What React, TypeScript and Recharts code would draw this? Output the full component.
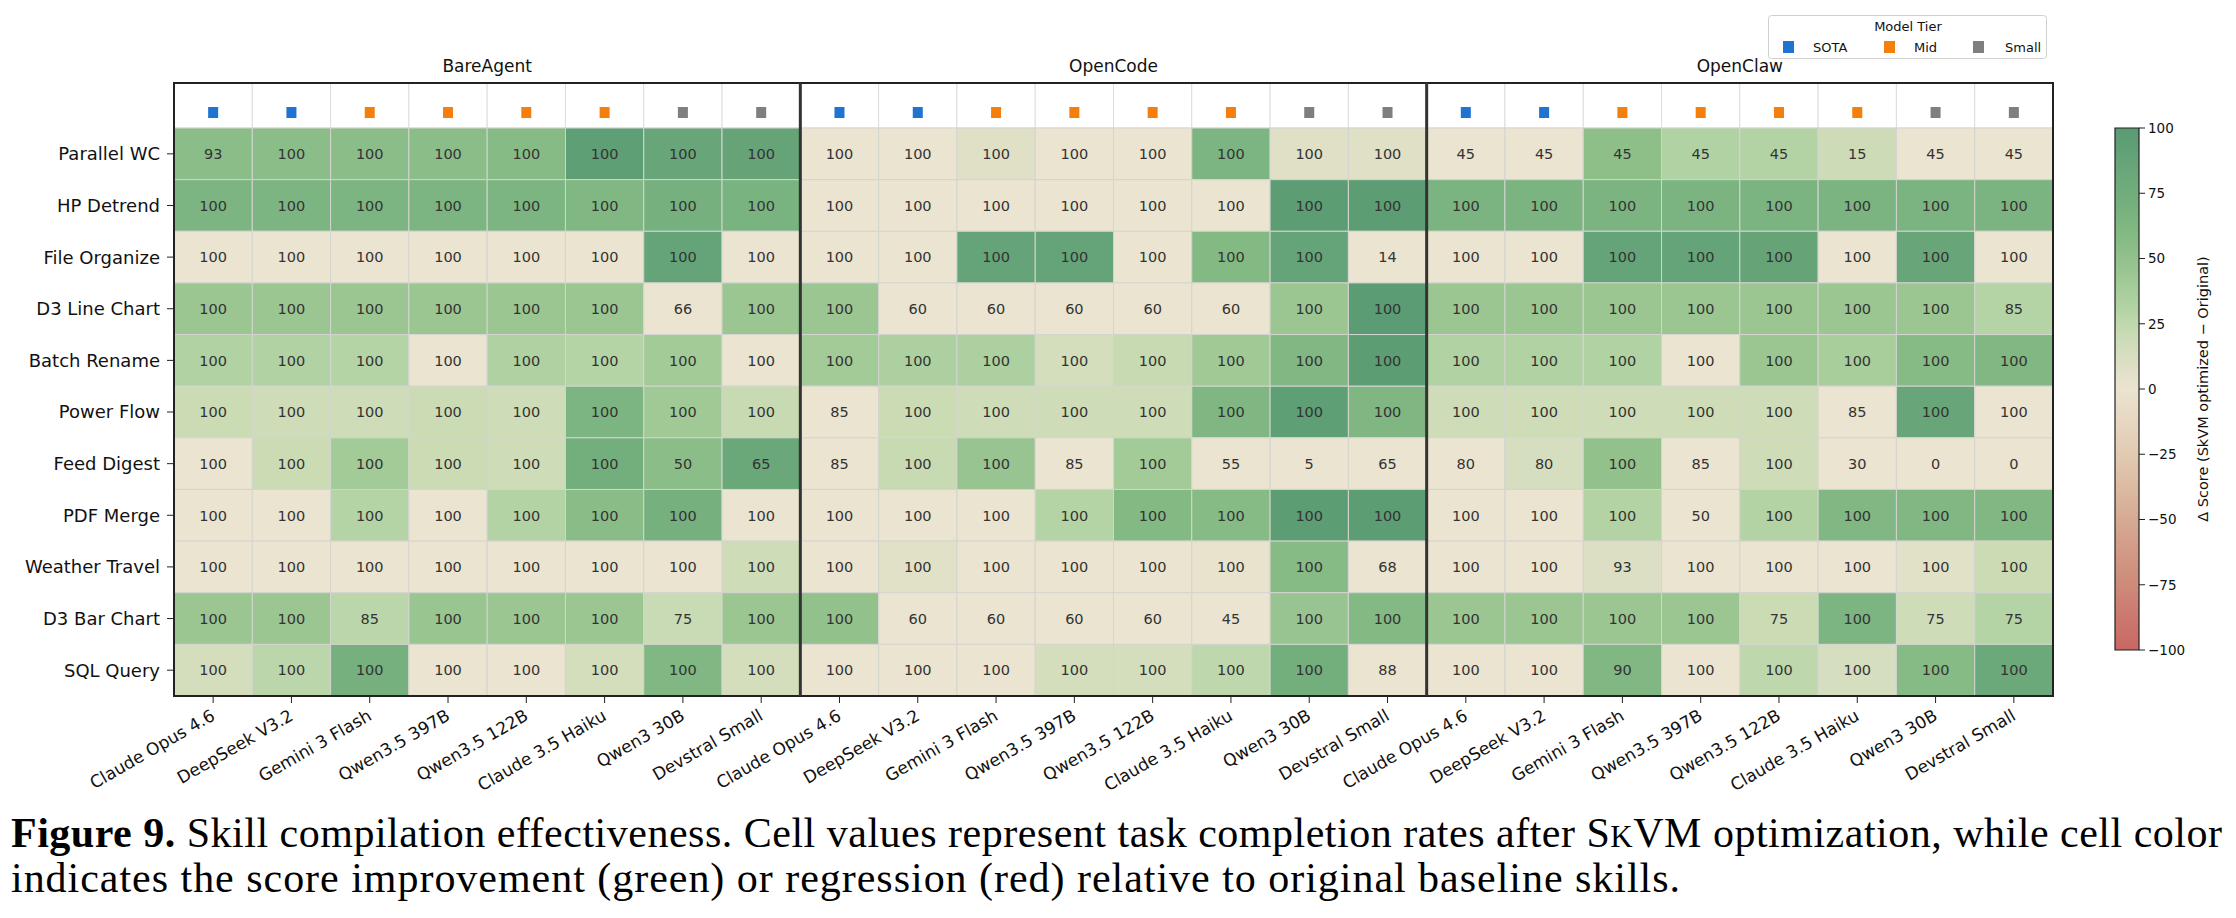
import React from 'react';
import { ComposedChart, XAxis, YAxis, Scatter, ReferenceArea, ReferenceLine } from 'recharts';

const agents = ['BareAgent', 'OpenCode', 'OpenClaw'];
const models = ['Claude Opus 4.6', 'DeepSeek V3.2', 'Gemini 3 Flash', 'Qwen3.5 397B', 'Qwen3.5 122B', 'Claude 3.5 Haiku', 'Qwen3 30B', 'Devstral Small'];
const modelTiers = ['SOTA', 'SOTA', 'Mid', 'Mid', 'Mid', 'Mid', 'Small', 'Small'];
const tierNames = ['SOTA', 'Mid', 'Small'];
const tasks = ['Parallel WC', 'HP Detrend', 'File Organize', 'D3 Line Chart', 'Batch Rename', 'Power Flow', 'Feed Digest', 'PDF Merge', 'Weather Travel', 'D3 Bar Chart', 'SQL Query'];
const colorbarTicks = [-100, -75, -50, -25, 0, 25, 50, 75, 100];

const bareAgentValues = [
  [93, 100, 100, 100, 100, 100, 100, 100],
  [100, 100, 100, 100, 100, 100, 100, 100],
  [100, 100, 100, 100, 100, 100, 100, 100],
  [100, 100, 100, 100, 100, 100, 66, 100],
  [100, 100, 100, 100, 100, 100, 100, 100],
  [100, 100, 100, 100, 100, 100, 100, 100],
  [100, 100, 100, 100, 100, 100, 50, 65],
  [100, 100, 100, 100, 100, 100, 100, 100],
  [100, 100, 100, 100, 100, 100, 100, 100],
  [100, 100, 85, 100, 100, 100, 75, 100],
  [100, 100, 100, 100, 100, 100, 100, 100],
];
const bareAgentDeltas = [
  [55, 55, 55, 55, 58, 95, 85, 87],
  [65, 65, 65, 65, 65, 62, 70, 67],
  [0, 0, 0, 0, 0, 0, 88, 0],
  [45, 45, 45, 45, 45, 45, 0, 45],
  [32, 32, 30, 0, 33, 30, 40, 0],
  [20, 18, 18, 20, 18, 65, 42, 22],
  [0, 20, 40, 20, 18, 72, 55, 83],
  [0, 0, 30, 0, 31, 56, 70, 0],
  [0, 0, 0, 0, 0, 0, 0, 18],
  [45, 45, 27, 46, 45, 45, 21, 45],
  [15, 27, 70, 0, 0, 15, 62, 15],
];

const openCodeValues = [
  [100, 100, 100, 100, 100, 100, 100, 100],
  [100, 100, 100, 100, 100, 100, 100, 100],
  [100, 100, 100, 100, 100, 100, 100, 14],
  [100, 60, 60, 60, 60, 60, 100, 100],
  [100, 100, 100, 100, 100, 100, 100, 100],
  [85, 100, 100, 100, 100, 100, 100, 100],
  [85, 100, 100, 85, 100, 55, 5, 65],
  [100, 100, 100, 100, 100, 100, 100, 100],
  [100, 100, 100, 100, 100, 100, 100, 68],
  [100, 60, 60, 60, 60, 45, 100, 100],
  [100, 100, 100, 100, 100, 100, 100, 88],
];
const openCodeDeltas = [
  [0, 0, 8, 0, 0, 65, 8, 8],
  [0, 0, 0, 0, 0, 0, 97, 97],
  [0, 0, 88, 88, 0, 60, 88, 0],
  [45, 0, 0, 0, 0, 0, 45, 98],
  [40, 35, 35, 15, 22, 42, 62, 97],
  [0, 20, 18, 18, 18, 63, 95, 63],
  [0, 22, 47, 0, 40, 0, 0, 0],
  [0, 0, 0, 30, 60, 58, 97, 97],
  [0, 7, 0, 0, 0, 3, 58, 0],
  [50, 0, 0, 0, 0, 0, 47, 60],
  [0, 0, 0, 15, 15, 26, 72, 0],
];

const openClawValues = [
  [45, 45, 45, 45, 45, 15, 45, 45],
  [100, 100, 100, 100, 100, 100, 100, 100],
  [100, 100, 100, 100, 100, 100, 100, 100],
  [100, 100, 100, 100, 100, 100, 100, 85],
  [100, 100, 100, 100, 100, 100, 100, 100],
  [100, 100, 100, 100, 100, 85, 100, 100],
  [80, 80, 100, 85, 100, 30, 0, 0],
  [100, 100, 100, 50, 100, 100, 100, 100],
  [100, 100, 93, 100, 100, 100, 100, 100],
  [100, 100, 100, 100, 75, 100, 75, 75],
  [100, 100, 90, 100, 100, 100, 100, 100],
];
const openClawDeltas = [
  [0, 0, 53, 32, 31, 19, 0, 0],
  [66, 66, 66, 66, 66, 66, 66, 66],
  [0, 0, 88, 88, 87, 0, 85, 0],
  [45, 45, 45, 45, 45, 45, 45, 30],
  [32, 32, 32, 0, 45, 37, 58, 62],
  [18, 18, 18, 18, 18, 0, 85, 0],
  [0, 14, 50, 0, 18, 0, 0, 0],
  [0, 0, 31, 0, 31, 62, 62, 62],
  [0, 0, 10, 0, 0, 0, 7, 20],
  [45, 45, 45, 45, 20, 65, 18, 30],
  [0, 0, 62, 0, 26, 14, 58, 82],
];

const groupValues = [bareAgentValues, openCodeValues, openClawValues];
const groupDeltas = [bareAgentDeltas, openCodeDeltas, openClawDeltas];

// colormap (style): delta -> rgb
const CMAP: [number, number, number, number][] = [
  [-100, 200, 104, 100],
  [-75, 206, 138, 122],
  [-50, 214, 170, 146],
  [-25, 226, 202, 178],
  [0, 235, 228, 208],
  [10, 220, 223, 196],
  [20, 203, 220, 181],
  [30, 181, 212, 166],
  [40, 163, 203, 152],
  [50, 146, 193, 140],
  [60, 131, 185, 131],
  [70, 117, 176, 126],
  [80, 109, 170, 123],
  [90, 99, 162, 119],
  [100, 89, 155, 115],
];
function cmap(d: number): string {
  const v = Math.max(-100, Math.min(100, d));
  for (let i = 0; i < CMAP.length - 1; i++) {
    const a = CMAP[i], b = CMAP[i + 1];
    if (v >= a[0] && v <= b[0]) {
      const t = (v - a[0]) / (b[0] - a[0]);
      const c = [1, 2, 3].map((k) => Math.round(a[k] + (b[k] - a[k]) * t));
      return `rgb(${c[0]},${c[1]},${c[2]})`;
    }
  }
  return 'rgb(235,228,208)';
}

const TIER_COLORS: Record<string, string> = { SOTA: '#1f73d1', Mid: '#f57f0c', Small: '#7f7f7f' };
const FONT = "'DejaVu Sans', sans-serif";
const HEADER = 0.872;
const NCOL = agents.length * models.length;

type Cell = { x: number; y: number; col: number; row: number; v: number; d: number };
const cells: Cell[] = [];
groupValues.forEach((gv, g) => {
  gv.forEach((rowVals, r) => {
    rowVals.forEach((v, c) => {
      const col = g * models.length + c;
      cells.push({ x: col + 0.5, y: r + 0.5, col, row: r, v, d: groupDeltas[g][r][c] });
    });
  });
});
const tierPoints = agents.flatMap((_, g) =>
  models.map((m, c) => ({ x: g * models.length + c + 0.5, y: -0.31, tier: modelTiers[c] }))
);
const colLabels = agents.flatMap(() => models);

const BottomTick = (props: any) => {
  const { x, y, payload } = props;
  const idx = Math.floor(payload.value);
  const ex = x + 3;
  const ey = y + 14;
  return (
    <text x={ex} y={ey} textAnchor="end" fontSize={17} fill="#111" fontFamily={FONT}
      transform={`rotate(-30, ${ex}, ${ey})`}>
      {colLabels[idx]}
    </text>
  );
};

const CellText = (props: any) => {
  const { cx, cy, payload } = props;
  return (
    <text x={cx} y={cy} dy="0.36em" textAnchor="middle" fontSize={14.5} fill="#333" fontFamily={FONT}>
      {payload.v}
    </text>
  );
};

const TierMark = (props: any) => {
  const { cx, cy, payload } = props;
  return <rect x={cx - 5} y={cy - 5} width={10} height={11} fill={TIER_COLORS[payload.tier]} />;
};

const fmtMinus = (v: number) => (v < 0 ? `\u2212${Math.abs(v)}` : `${v}`);

export default function App() {
  const xTicks = Array.from({ length: NCOL }, (_, i) => i + 0.5);
  const yTicks = tasks.map((_, i) => i + 0.5);
  return (
    <div style={{ position: 'absolute', left: 0, top: 0, width: 2236, height: 918, background: '#fff', fontFamily: FONT, overflow: 'hidden' }}>
      <div style={{ position: 'absolute', left: 0, top: 0 }}>
        <ComposedChart width={2070} height={800} margin={{ top: 83, left: 4, right: 17, bottom: 4 }}>
          <XAxis dataKey="x" type="number" domain={[0, NCOL]} ticks={xTicks} allowDataOverflow
            interval={0} tick={<BottomTick />} tickSize={7} tickLine={{ stroke: '#222' }} axisLine={false} height={100} />
          <YAxis dataKey="y" type="number" domain={[-HEADER, tasks.length]} reversed allowDataOverflow ticks={yTicks}
            interval={0} tickFormatter={(v: number) => tasks[Math.floor(v)]} width={170} tickSize={7} tickMargin={7}
            tick={{ fontSize: 18, fill: '#111', fontFamily: FONT }} tickLine={{ stroke: '#222' }} axisLine={false} />
          {xTicks.map((x, i) => (
            <ReferenceArea key={`h${i}`} x1={i} x2={i + 1} y1={-HEADER} y2={0} fill="#ffffff" fillOpacity={1}
              stroke="#dddddd" strokeWidth={1} ifOverflow="visible" />
          ))}
          {cells.map((c, i) => (
            <ReferenceArea key={`c${i}`} x1={c.col} x2={c.col + 1} y1={c.row} y2={c.row + 1} fill={cmap(c.d)}
              fillOpacity={1} stroke="#d4d4d0" strokeWidth={1} ifOverflow="visible" />
          ))}
          {agents.map((a, g) => (
            <ReferenceArea key={`g${g}`} x1={g * models.length} x2={(g + 1) * models.length} y1={-HEADER} y2={-HEADER}
              fill="none" fillOpacity={0} stroke="none" ifOverflow="visible"
              label={{ value: a, position: 'top', offset: 11, fontSize: 17, fill: '#111', fontFamily: FONT }} />
          ))}
          <Scatter data={cells} shape={<CellText />} isAnimationActive={false} legendType="none" />
          <Scatter data={tierPoints} shape={<TierMark />} isAnimationActive={false} legendType="none" />
          <ReferenceLine x={8} stroke="#333" strokeWidth={3} ifOverflow="visible" />
          <ReferenceLine x={16} stroke="#333" strokeWidth={3} ifOverflow="visible" />
          <ReferenceArea x1={0} x2={NCOL} y1={-HEADER} y2={tasks.length} fill="none" fillOpacity={0}
            stroke="#222" strokeWidth={2} ifOverflow="visible" />
        </ComposedChart>
      </div>

      <div style={{ position: 'absolute', left: 2080, top: 0 }}>
        <ComposedChart width={160} height={700} margin={{ top: 128, bottom: 50, left: 35, right: 41 }}>
          <defs>
            <linearGradient id="cbarGrad" x1="0" y1="1" x2="0" y2="0">
              {CMAP.map((s, i) => (
                <stop key={i} offset={`${((s[0] + 100) / 200) * 100}%`} stopColor={`rgb(${s[1]},${s[2]},${s[3]})`} />
              ))}
            </linearGradient>
          </defs>
          <XAxis dataKey="x" type="number" domain={[0, 1]} hide />
          <YAxis dataKey="y" orientation="right" type="number" domain={[-100, 100]} ticks={colorbarTicks} interval={0}
            width={60} tickSize={6} tickMargin={3} tickFormatter={fmtMinus} axisLine={false}
            tick={{ fontSize: 13.5, fill: '#111', fontFamily: FONT }} tickLine={{ stroke: '#222' }} />
          <ReferenceArea x1={0} x2={1} y1={-100} y2={100} fill="url(#cbarGrad)" fillOpacity={1} stroke="#222" strokeWidth={1.2} ifOverflow="visible" />
          <Scatter data={[{ x: 0.5, y: 0 }]} shape={() => <g />} isAnimationActive={false} legendType="none" />
        </ComposedChart>
      </div>

      <svg style={{ position: 'absolute', left: 0, top: 0 }} width={2236} height={918} pointerEvents="none">
        <text x={2203} y={389} textAnchor="middle" fontSize={14.5} fill="#111" fontFamily={FONT}
          transform="rotate(-90, 2203, 389)" dy="0.36em">
          {'\u0394 Score (SkVM optimized \u2212 Original)'}
        </text>
        <g transform="translate(1768,15)">
          <rect x={0.5} y={0.5} width={278} height={43} rx={3} fill="#fff" stroke="#d0d0d0" />
          <text x={140} y={16} textAnchor="middle" fontSize={13} fill="#111" fontFamily={FONT}>Model Tier</text>
          {tierNames.map((t, i) => {
            const sx = [15, 116, 205][i];
            const tx = [45, 146, 237][i];
            return (
              <g key={t}>
                <rect x={sx} y={26} width={11} height={12} fill={TIER_COLORS[t]} />
                <text x={tx} y={36.5} fontSize={13} fill="#111" fontFamily={FONT}>{t}</text>
              </g>
            );
          })}
        </g>
        <text x={11} y={847} fontSize={42} fill="#000" fontFamily="'Liberation Serif', serif" textLength={2211} lengthAdjust="spacing">
          <tspan fontWeight={700}>Figure 9.</tspan> Skill compilation effectiveness. Cell values represent task completion rates after S<tspan fontSize={31}>K</tspan>VM optimization, while cell color
        </text>
        <text x={11} y={892} fontSize={42} fill="#000" fontFamily="'Liberation Serif', serif" textLength={1669} lengthAdjust="spacing">
          indicates the score improvement (green) or regression (red) relative to original baseline skills.
        </text>
      </svg>
    </div>
  );
}
